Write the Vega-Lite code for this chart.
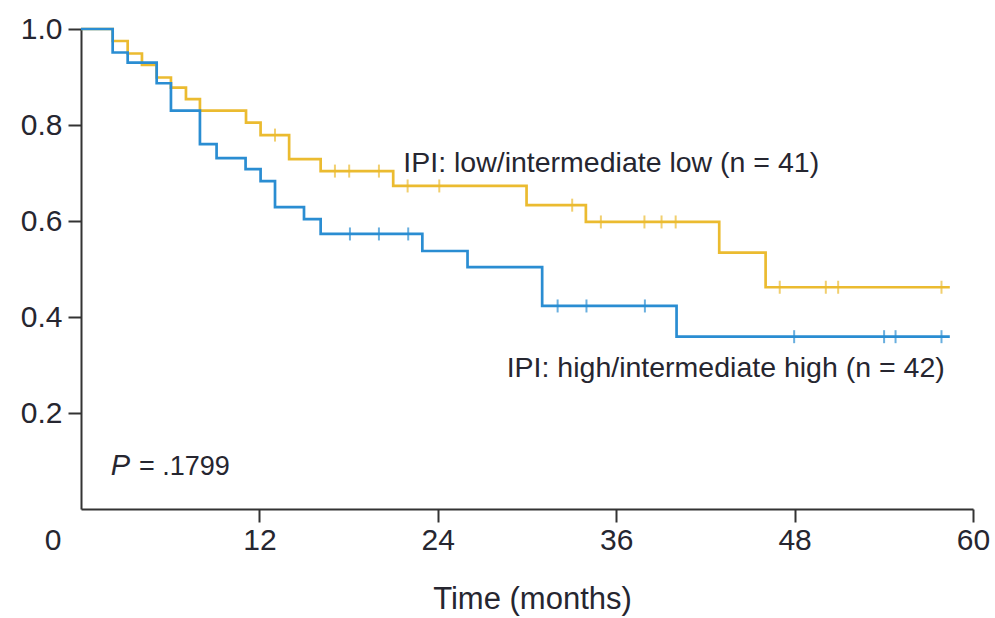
{
  "$schema": "https://vega.github.io/schema/vega-lite/v6.json",
  "width": 892,
  "height": 480,
  "autosize": {"type": "none"},
  "padding": {"left": 81, "top": 29, "right": 22, "bottom": 109},
  "background": "white",
  "config": {
    "view": {"stroke": null},
    "axis": {
      "grid": false,
      "domainColor": "#333333",
      "domainWidth": 2,
      "tickColor": "#333333",
      "tickWidth": 2,
      "tickSize": 13,
      "labelFont": "Liberation Sans",
      "labelFontSize": 30,
      "labelColor": "#262630",
      "titleFont": "Liberation Sans",
      "titleFontSize": 31,
      "titleFontWeight": "normal",
      "titleColor": "#262630"
    }
  },
  "datasets": {
    "curve": [
      {"group": "low", "time": 0, "surv": 1.0},
      {"group": "low", "time": 2.13, "surv": 0.975},
      {"group": "low", "time": 3.14, "surv": 0.949},
      {"group": "low", "time": 4.1, "surv": 0.925},
      {"group": "low", "time": 5.09, "surv": 0.899},
      {"group": "low", "time": 6.05, "surv": 0.878},
      {"group": "low", "time": 7.06, "surv": 0.854},
      {"group": "low", "time": 8.0, "surv": 0.83},
      {"group": "low", "time": 11.1, "surv": 0.805},
      {"group": "low", "time": 12.08, "surv": 0.779},
      {"group": "low", "time": 14.0, "surv": 0.729},
      {"group": "low", "time": 16.12, "surv": 0.704},
      {"group": "low", "time": 21.0, "surv": 0.673},
      {"group": "low", "time": 29.97, "surv": 0.633},
      {"group": "low", "time": 33.96, "surv": 0.598},
      {"group": "low", "time": 42.93, "surv": 0.534},
      {"group": "low", "time": 46.05, "surv": 0.462},
      {"group": "low", "time": 58.44, "surv": 0.462},
      {"group": "high", "time": 0, "surv": 1.0},
      {"group": "high", "time": 2.13, "surv": 0.951},
      {"group": "high", "time": 3.14, "surv": 0.93},
      {"group": "high", "time": 5.09, "surv": 0.887},
      {"group": "high", "time": 6.05, "surv": 0.83},
      {"group": "high", "time": 8.0, "surv": 0.76},
      {"group": "high", "time": 9.12, "surv": 0.731},
      {"group": "high", "time": 11.07, "surv": 0.708},
      {"group": "high", "time": 12.08, "surv": 0.683},
      {"group": "high", "time": 13.05, "surv": 0.629},
      {"group": "high", "time": 15.0, "surv": 0.604},
      {"group": "high", "time": 16.12, "surv": 0.573},
      {"group": "high", "time": 22.96, "surv": 0.5375},
      {"group": "high", "time": 26.0, "surv": 0.504},
      {"group": "high", "time": 31.02, "surv": 0.423},
      {"group": "high", "time": 40.06, "surv": 0.359},
      {"group": "high", "time": 58.44, "surv": 0.359}
    ],
    "censor": [
      {"group": "low", "time": 13.05, "surv": 0.779},
      {"group": "low", "time": 17.08, "surv": 0.704},
      {"group": "low", "time": 18.04, "surv": 0.704},
      {"group": "low", "time": 20.04, "surv": 0.704},
      {"group": "low", "time": 21.97, "surv": 0.673},
      {"group": "low", "time": 24.1, "surv": 0.673},
      {"group": "low", "time": 33.04, "surv": 0.633},
      {"group": "low", "time": 34.97, "surv": 0.598},
      {"group": "low", "time": 37.9, "surv": 0.598},
      {"group": "low", "time": 39.05, "surv": 0.598},
      {"group": "low", "time": 40.0, "surv": 0.598},
      {"group": "low", "time": 47.0, "surv": 0.462},
      {"group": "low", "time": 50.1, "surv": 0.462},
      {"group": "low", "time": 50.93, "surv": 0.462},
      {"group": "low", "time": 57.88, "surv": 0.462},
      {"group": "high", "time": 18.09, "surv": 0.573},
      {"group": "high", "time": 20.04, "surv": 0.573},
      {"group": "high", "time": 22.01, "surv": 0.573},
      {"group": "high", "time": 32.06, "surv": 0.423},
      {"group": "high", "time": 34.0, "surv": 0.423},
      {"group": "high", "time": 37.93, "surv": 0.423},
      {"group": "high", "time": 47.97, "surv": 0.359},
      {"group": "high", "time": 54.02, "surv": 0.359},
      {"group": "high", "time": 54.79, "surv": 0.359},
      {"group": "high", "time": 57.88, "surv": 0.359}
    ]
  },
  "layer": [
    {
      "data": {"name": "curve"},
      "mark": {"type": "line", "interpolate": "step-after", "strokeWidth": 2.7},
      "encoding": {
        "x": {
          "field": "time", "type": "quantitative",
          "scale": {"domain": [0, 60], "nice": false, "zero": false},
          "axis": {
            "values": [0, 12, 24, 36, 48, 60],
            "labelFlush": false,
            "labelOverlap": false,
            "labelPadding": 3,
            "labelOffset": {"condition": {"test": "datum.value == 0", "value": -28.5}, "value": 0},
            "tickColor": {"condition": {"test": "datum.value == 0", "value": "transparent"}, "value": "#333333"},
            "title": "Time (months)",
            "titleX": 451,
            "titleY": 99,
            "titleBaseline": "alphabetic",
            "titleAnchor": null,
            "titleAlign": "center"
          }
        },
        "y": {
          "field": "surv", "type": "quantitative",
          "scale": {"domain": [0, 1], "nice": false},
          "axis": {
            "values": [0.2, 0.4, 0.6, 0.8, 1.0],
            "format": ".1f",
            "labelPadding": 6,
            "title": null
          }
        },
        "color": {
          "field": "group", "type": "nominal",
          "scale": {"domain": ["high", "low"], "range": ["#2a8dd2", "#ebbb30"]},
          "legend": null
        },
        "order": {"field": "time", "type": "quantitative"}
      }
    },
    {
      "data": {"name": "censor"},
      "mark": {"type": "tick", "orient": "vertical", "size": 13, "thickness": 2},
      "encoding": {
        "x": {"field": "time", "type": "quantitative"},
        "y": {"field": "surv", "type": "quantitative"},
        "color": {"field": "group", "type": "nominal"}
      }
    },
    {
      "data": {"values": [{"label": "IPI: low/intermediate low (n = 41)"}]},
      "mark": {"type": "text", "align": "left", "baseline": "alphabetic", "font": "Liberation Sans", "fontSize": 28.5, "color": "#262630"},
      "encoding": {
        "x": {"datum": 21.68, "type": "quantitative"},
        "y": {"datum": 0.7027, "type": "quantitative"},
        "text": {"field": "label"}
      }
    },
    {
      "data": {"values": [{"label": "IPI: high/intermediate high (n = 42)"}]},
      "mark": {"type": "text", "align": "right", "baseline": "alphabetic", "font": "Liberation Sans", "fontSize": 28.5, "color": "#262630"},
      "encoding": {
        "x": {"datum": 58.1, "type": "quantitative"},
        "y": {"datum": 0.275, "type": "quantitative"},
        "text": {"field": "label"}
      }
    },
    {
      "data": {"values": [{"label": "P"}]},
      "mark": {"type": "text", "align": "left", "baseline": "alphabetic", "font": "Liberation Sans", "fontSize": 29, "fontStyle": "italic", "color": "#262630"},
      "encoding": {
        "x": {"datum": 2.0, "type": "quantitative"},
        "y": {"datum": 0.0708, "type": "quantitative"},
        "text": {"field": "label"}
      }
    },
    {
      "data": {"values": [{"label": "= .1799"}]},
      "mark": {"type": "text", "align": "left", "baseline": "alphabetic", "font": "Liberation Sans", "fontSize": 27, "color": "#262630"},
      "encoding": {
        "x": {"datum": 3.9, "type": "quantitative"},
        "y": {"datum": 0.0708, "type": "quantitative"},
        "text": {"field": "label"}
      }
    }
  ]
}
